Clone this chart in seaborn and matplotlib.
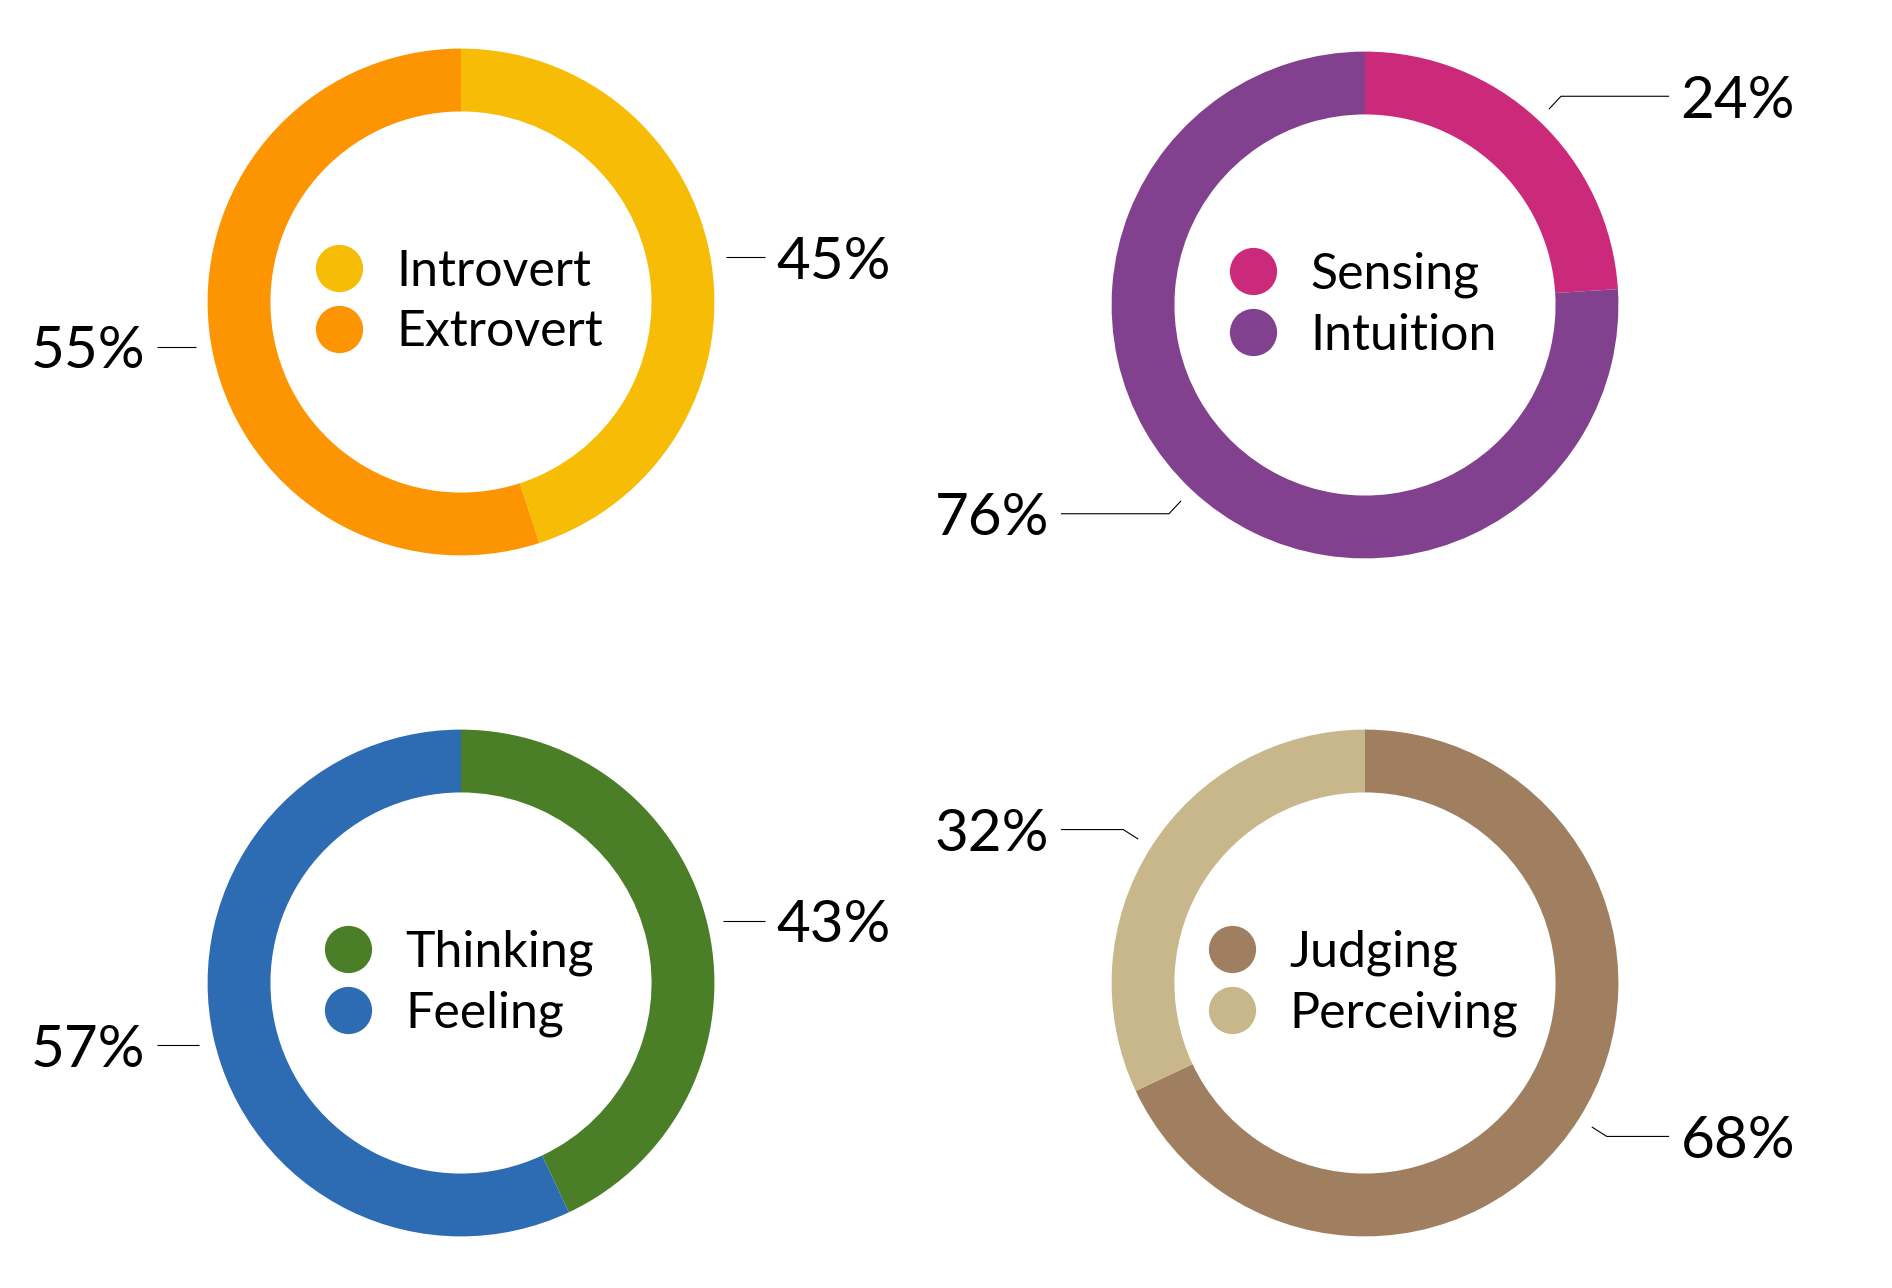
import numpy as np
import matplotlib
matplotlib.use('Agg')
import matplotlib.pyplot as plt
import seaborn as sns
from matplotlib.lines import Line2D

# Data
ie_labels = ['Introvert', 'Extrovert']
ie_values = [45, 55]
ie_colors = ['#F7BC05', '#FD9402']

sn_labels = ['Sensing', 'Intuition']
sn_values = [24, 76]
sn_colors = ['#CB2A7A', '#82418F']

tf_labels = ['Thinking', 'Feeling']
tf_values = [43, 57]
tf_colors = ['#4A7F28', '#2D6BB2']

jp_labels = ['Judging', 'Perceiving']
jp_values = [68, 32]
jp_colors = ['#A07F60', '#C7B78A']

sns.set_theme(style='white')
plt.rcParams['font.family'] = ['Lato', 'DejaVu Sans']

FIG_W, FIG_H = 1892, 1288
R_PX = 253.4          # outer radius in pixels
HALF_W, HALF_H = 473, 340

# donut centres in pixels (x from left, y from top)
centres = [(461, 302), (1365, 305), (461, 983), (1365, 983)]
donuts = [
    (ie_labels, ie_values, ie_colors),
    (sn_labels, sn_values, sn_colors),
    (tf_labels, tf_values, tf_colors),
    (jp_labels, jp_values, jp_colors),
]

fig = plt.figure(figsize=(FIG_W / 100, FIG_H / 100), dpi=100)
fig.patch.set_facecolor('white')

for (cx, cy), (labels, values, colors) in zip(centres, donuts):
    ax = fig.add_axes([
        (cx - HALF_W) / FIG_W,
        (FIG_H - cy - HALF_H) / FIG_H,
        2 * HALF_W / FIG_W,
        2 * HALF_H / FIG_H,
    ])
    ax.set_facecolor('none')

    wedges, _ = ax.pie(
        values,
        colors=colors,
        startangle=90,
        counterclock=False,
        radius=1.0,
        wedgeprops=dict(width=0.248, linewidth=0),
    )

    # leader lines + percentage labels at wedge midpoints
    total = sum(values)
    start = 0.0
    for v in values:
        mid = np.deg2rad(start + v / total * 180.0)
        start += v / total * 360.0
        dx, dy = np.sin(mid), np.cos(mid)
        side = 1 if dx >= 0 else -1
        p1 = (1.06 * dx, 1.06 * dy)
        p2 = (1.13 * dx, 1.13 * dy)
        if abs(dy) < 0.3:
            p1 = (p1[0], p2[1])
        p3 = (side * 1.2, p2[1])
        ax.plot([p1[0], p2[0], p3[0]], [p1[1], p2[1], p3[1]],
                color='black', linewidth=0.8, solid_capstyle='butt')
        ax.text(side * 1.245, p2[1], f'{v}%', fontsize=42,
                ha='left' if side > 0 else 'right', va='center_baseline',
                color='black')

    handles = [Line2D([], [], marker='o', linestyle='', markersize=34,
                      markerfacecolor=c, markeredgewidth=0) for c in colors]
    ax.legend(handles, labels, loc='center', frameon=False, fontsize=36,
              handlelength=0.8, handletextpad=0.75, labelspacing=0.3,
              borderpad=0, labelcolor='black')

    ax.set_xlim(-HALF_W / R_PX, HALF_W / R_PX)
    ax.set_ylim(-HALF_H / R_PX, HALF_H / R_PX)
    ax.set_aspect('equal', adjustable='box')
    ax.axis('off')

fig.savefig('out.png', dpi=100, facecolor='white')
